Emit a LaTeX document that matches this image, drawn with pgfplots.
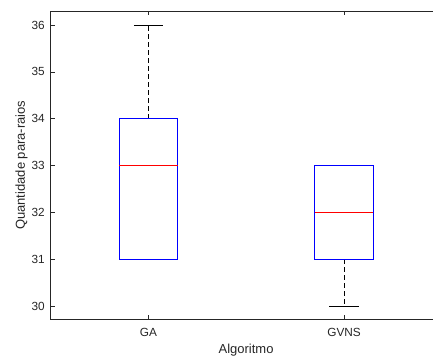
\documentclass[border=0pt]{standalone}
\usepackage{fontspec}
\setmainfont{Liberation Sans}
\usepackage{pgfplots}
\pgfplotsset{compat=1.18}
\definecolor{axgray}{rgb}{0.15,0.15,0.15}
\begin{document}
\begin{tikzpicture}
\path (-50.7pt,-36.5pt) rectangle (382.0pt,319.5pt);
\begin{axis}[
  scale only axis,
  width=382.0pt, height=308.5pt,
  xmin=0.5, xmax=2.4534,
  ymin=29.716, ymax=36.3,
  axis x line*=box, axis y line*=left,
  xtick={1,2}, xticklabels={GA,GVNS},
  ytick={30,31,32,33,34,35,36},
  tick align=inside,
  xtick pos=both,
  major tick length=4.5pt,
  minor tick num=0,
  axis line style={axgray, line width=0.6pt},
  tick style={axgray, line width=0.6pt},
  /pgf/number format/assume math mode=true,
  tick label style={font=\fontsize{11.8}{13}\selectfont, text=axgray},
  xticklabel style={inner sep=0pt, anchor=north, yshift=-9pt},
  yticklabel style={inner sep=0pt, anchor=east, xshift=-5.7pt},
  every axis x label/.style={at={(axis description cs:0.5,-0.0788)}, anchor=north, inner sep=0pt, font=\fontsize{13}{15}\selectfont, text=axgray},
  every axis y label/.style={at={(axis description cs:-0.0673,0.5)}, rotate=90, anchor=base, inner sep=0pt, font=\fontsize{13}{15}\selectfont, text=axgray},
  xlabel={\hspace*{8.8pt}Algoritmo},
  ylabel={Quantidade para-raios},
  whisk/.style={black, line width=0.8pt, dash pattern=on 5pt off 3pt},
  cap/.style={black, solid, line width=0.8pt},
  bx/.style={blue, solid, line width=0.9pt, line join=miter},
  med/.style={red, solid, line width=0.9pt},
]
% GA: min 31, Q1 31, median 33, Q3 34, max 36
\addplot[whisk] coordinates {(1,34) (1,36)};
\addplot[cap] coordinates {(0.925,36) (1.075,36)};
\addplot[cap] coordinates {(0.925,31) (1.075,31)};
\addplot[bx] coordinates {(0.85,31) (1.15,31) (1.15,34) (0.85,34) (0.85,31) (1.15,31)};
\addplot[med] coordinates {(0.85,33) (1.15,33)};
% GVNS: min 30, Q1 31, median 32, Q3 33, max 33
\addplot[whisk] coordinates {(2,31) (2,30)};
\addplot[cap] coordinates {(1.925,33) (2.075,33)};
\addplot[cap] coordinates {(1.925,30) (2.075,30)};
\addplot[bx] coordinates {(1.85,31) (2.15,31) (2.15,33) (1.85,33) (1.85,31) (2.15,31)};
\addplot[med] coordinates {(1.85,32) (2.15,32)};
\end{axis}
\end{tikzpicture}
\end{document}
